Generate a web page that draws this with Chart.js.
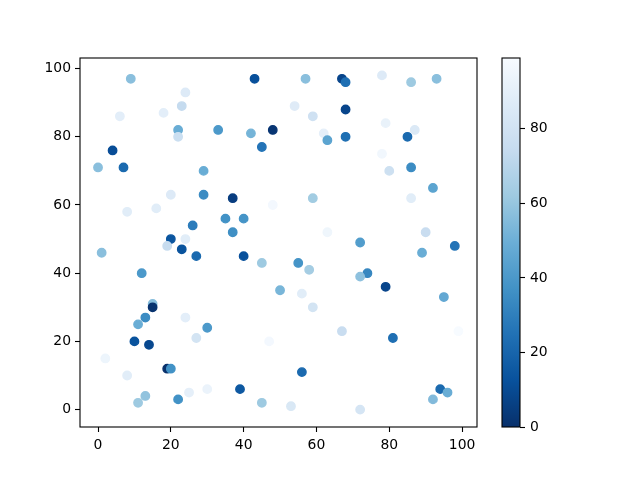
<!DOCTYPE html>
<html><head><meta charset="utf-8">
<script src="https://cdn.jsdelivr.net/npm/chart.js@4.4.0/dist/chart.umd.min.js"></script>
<style>
html,body{margin:0;padding:0;background:#fff;}
#wrap{position:relative;width:640px;height:480px;}
canvas{position:absolute;left:0;top:0;width:640px;height:480px;}
</style></head><body>
<div id="wrap"><canvas id="main" width="640" height="480"></canvas><canvas id="cbar" width="640" height="480"></canvas></div>
<script>
const xs=[9,43,57,67,68,78,86,93,24,23,54,18,6,59,68,79,22,22,33,42,48,62,63,68,85,87,4,45,0,7,29,86,80,20,29,37,59,8,16,48,86,92,35,40,26,37,63,90,1,20,19,24,23,27,40,12,45,55,58,72,74,72,89,98,79,50,56,59,15,15,13,11,24,30,27,10,14,47,67,95,81,99,2,8,19,20,11,13,22,25,30,39,45,53,56,72,92,94,96,78];
const ys=[97,97,97,97,96,98,96,97,93,89,89,87,86,86,88,84,82,80,82,81,82,81,79,80,80,82,76,77,71,71,70,71,70,63,63,62,62,58,59,60,62,65,56,56,54,52,52,52,46,50,48,50,47,45,45,40,43,43,41,49,40,39,46,48,36,35,34,30,31,30,27,25,27,24,21,20,19,20,23,33,21,23,15,10,12,12,2,4,3,5,6,6,2,1,11,0,3,6,5,75];
const cs=[57,12,57,8,24,86,62,57,86,74,87,89,89,79,8,92,49,77,40,52,2,90,45,24,22,85,11,26,57,22,49,35,78,86,35,5,63,88,88,97,88,45,37,38,29,36,95,76,57,14,75,88,13,22,12,40,62,38,64,42,33,58,49,26,8,53,88,81,56,1,35,49,89,40,81,13,9,97,76,47,24,99,94,88,0,37,62,59,37,90,93,15,62,84,22,82,55,22,49,96];
const xTicks=[0,20,40,60,80,100];
const yTicks=[0,20,40,60,80,100];
const cbTicks=[0,20,40,60,80];

const BLUES=['#f7fbff','#deebf7','#c6dbef','#9ecae1','#6baed6','#4292c6','#2171b5','#08519c','#08306b'];
const CB_STOPS=BLUES.slice().reverse();
const cMin=Math.min(...cs), cMax=Math.max(...cs);
function hex(h){return [parseInt(h.substr(1,2),16),parseInt(h.substr(3,2),16),parseInt(h.substr(5,2),16)];}
function cmap(t){
  t=Math.max(0,Math.min(1,t));
  const p=t*(CB_STOPS.length-1), i=Math.min(Math.floor(p),CB_STOPS.length-2), f=p-i;
  const a=hex(CB_STOPS[i]), b=hex(CB_STOPS[i+1]);
  return 'rgb('+a.map((v,k)=>Math.round(v+(b[k]-v)*f)).join(',')+')';
}
const colors=cs.map(c=>cmap((c-cMin)/(cMax-cMin)));
const pts=xs.map((x,i)=>({x:x,y:ys[i]}));

Chart.defaults.font.family='DejaVu Sans';
Chart.defaults.font.size=13.9;
Chart.defaults.color='#000';

const frame={id:'frame',afterDraw(ch){const a=ch.chartArea,c=ch.ctx;c.save();c.strokeStyle='#000';c.lineWidth=1.1;c.strokeRect(a.left,a.top,a.right-a.left,a.bottom-a.top);c.restore();}};
const gridOpt={display:true,drawOnChartArea:false,drawTicks:true,tickLength:5,tickColor:'#000',tickWidth:1.1};

new Chart(document.getElementById('main'),{
  type:'scatter',
  data:{datasets:[{data:pts,pointBackgroundColor:colors,pointBorderColor:colors,pointRadius:4.2,pointBorderWidth:1.4,pointHoverRadius:4.2}]},
  options:{
    responsive:false,maintainAspectRatio:false,animation:false,devicePixelRatio:1,
    layout:{padding:{left:0,top:58,right:163,bottom:0}},
    plugins:{legend:{display:false},tooltip:{enabled:false}},
    scales:{
      x:{type:'linear',min:-4.95,max:104.1,grid:gridOpt,border:{display:false},
         ticks:{padding:5,maxRotation:0},
         afterBuildTicks:s=>{s.ticks=xTicks.map(v=>({value:v}));},
         afterFit:s=>{s.height=53;}},
      y:{type:'linear',min:-5.1,max:103.1,grid:gridOpt,border:{display:false},
         ticks:{padding:4},
         afterBuildTicks:s=>{s.ticks=yTicks.map(v=>({value:v}));},
         afterFit:s=>{s.width=80;}}
    }
  },
  plugins:[frame]
});

const cbFill={id:'cbFill',beforeDatasetsDraw(ch){const a=ch.chartArea,c=ch.ctx;const g=c.createLinearGradient(0,a.bottom,0,a.top);CB_STOPS.forEach((col,i)=>g.addColorStop(i/(CB_STOPS.length-1),col));c.save();c.fillStyle=g;c.fillRect(a.left,a.top,a.right-a.left,a.bottom-a.top);c.restore();}};

new Chart(document.getElementById('cbar'),{
  type:'scatter',
  data:{datasets:[{data:[]}]},
  options:{
    responsive:false,maintainAspectRatio:false,animation:false,devicePixelRatio:1,
    layout:{padding:{left:502,top:58,right:0,bottom:53}},
    plugins:{legend:{display:false},tooltip:{enabled:false}},
    scales:{
      x:{display:false,min:0,max:1},
      y:{type:'linear',position:'right',min:cMin,max:cMax,grid:gridOpt,border:{display:false},
         ticks:{padding:5},
         afterBuildTicks:s=>{s.ticks=cbTicks.map(v=>({value:v}));},
         afterFit:s=>{s.width=120;}}
    }
  },
  plugins:[cbFill,frame]
});
</script>
</body></html>
